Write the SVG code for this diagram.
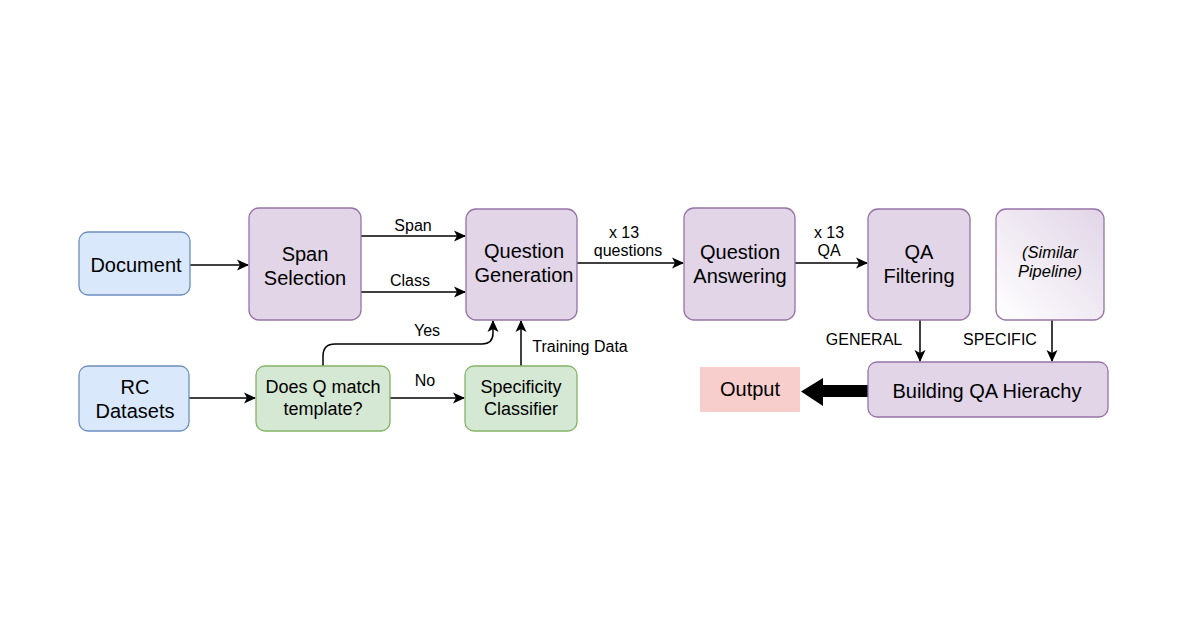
<svg xmlns="http://www.w3.org/2000/svg" width="1200" height="628" viewBox="0 0 1200 628">
<style>
text{font-family:"Liberation Sans",Arial,sans-serif;fill:#000;text-anchor:middle}
.n{font-size:20px}
.l{font-size:16px}
.m{font-size:18px}
.blue{fill:#dae8fc;stroke:#6c8ebf;stroke-width:1.3}
.purple{fill:#e1d5e7;stroke:#9673a6;stroke-width:1.3}
.green{fill:#d5e8d4;stroke:#82b366;stroke-width:1.3}
.c{fill:none;stroke:#000;stroke-width:1.5}
</style>
<defs>
<marker id="ah" viewBox="0 0 12 12" refX="11" refY="6" markerWidth="12" markerHeight="12" markerUnits="userSpaceOnUse" orient="auto">
<path d="M0,0.5 L12,6 L0,11.5 L3,6 Z" fill="#000"/>
</marker>
<linearGradient id="g" x1="0" y1="1" x2="1" y2="0">
<stop offset="0" stop-color="#ffffff"/>
<stop offset="1" stop-color="#e1d5e7"/>
</linearGradient>
</defs>
<rect width="1200" height="628" fill="#fff"/>
<g id="connectors">
<path class="c" d="M190,265 H248" marker-end="url(#ah)"/>
<path class="c" d="M361,236 H465" marker-end="url(#ah)"/>
<path class="c" d="M361,292 H465" marker-end="url(#ah)"/>
<path class="c" d="M577,263 H683" marker-end="url(#ah)"/>
<path class="c" d="M795,263 H867" marker-end="url(#ah)"/>
<path class="c" d="M189,398 H255" marker-end="url(#ah)"/>
<path class="c" d="M390,398 H464" marker-end="url(#ah)"/>
<path class="c" d="M323,366 V356 Q323,344 335,344 H482 Q493,344 493,333 V321" marker-end="url(#ah)"/>
<path class="c" d="M521,366 V321" marker-end="url(#ah)"/>
<path class="c" d="M920,320 V361" marker-end="url(#ah)"/>
<path class="c" d="M1052,320 V361" marker-end="url(#ah)"/>
<path d="M868,385 H823 V378 L801,391.5 L823,406 V397 H868 Z" fill="#000"/>
<text class="l" x="413" y="231">Span</text>
<text class="l" x="410" y="286">Class</text>
<text class="l" x="624" y="238">x 13</text>
<text class="l" x="628" y="256">questions</text>
<text class="l" x="829" y="238">x 13</text>
<text class="l" x="829" y="256">QA</text>
<text class="l" x="427" y="336">Yes</text>
<text class="l" x="425" y="386">No</text>
<text class="l" x="580" y="352">Training Data</text>
<text class="l" x="864" y="345">GENERAL</text>
<text class="l" x="1000" y="345">SPECIFIC</text>
</g>
<g id="document"><rect class="blue" x="79" y="232" width="111" height="63" rx="9"/><text class="n" x="136" y="272">Document</text></g>
<g id="span-selection"><rect class="purple" x="249" y="208" width="112" height="112" rx="10"/><text class="n" x="305" y="261">Span</text><text class="n" x="305" y="285">Selection</text></g>
<g id="question-generation"><rect class="purple" x="466" y="209" width="111" height="111" rx="10"/><text class="n" x="524" y="258">Question</text><text class="n" x="524" y="282">Generation</text></g>
<g id="question-answering"><rect class="purple" x="684" y="208" width="111" height="112" rx="10"/><text class="n" x="740" y="259">Question</text><text class="n" x="740" y="283">Answering</text></g>
<g id="qa-filtering"><rect class="purple" x="868" y="209" width="102" height="111" rx="10"/><text class="n" x="919" y="259">QA</text><text class="n" x="919" y="283">Filtering</text></g>
<g id="similar-pipeline"><rect x="996" y="209" width="108" height="111" rx="10" fill="url(#g)" stroke="#9673a6" stroke-width="1.3"/><text x="1050" y="258" font-size="16.5" font-style="italic">(Similar</text><text x="1050" y="277" font-size="16.5" font-style="italic">Pipeline)</text></g>
<g id="rc-datasets"><rect class="blue" x="79" y="366" width="110" height="65" rx="9"/><text class="n" x="135" y="394">RC</text><text class="n" x="135" y="418">Datasets</text></g>
<g id="does-q-match"><rect class="green" x="256" y="366" width="134" height="65" rx="9"/><text class="m" x="323" y="393">Does Q match</text><text class="m" x="323" y="415">template?</text></g>
<g id="specificity-classifier"><rect class="green" x="465" y="366" width="112" height="65" rx="9"/><text class="m" x="521" y="393">Specificity</text><text class="m" x="521" y="415">Classifier</text></g>
<g id="building-qa-hierachy"><rect class="purple" x="868" y="362" width="240" height="55" rx="9"/><text class="n" x="987" y="398">Building QA Hierachy</text></g>
<g id="output"><rect x="700" y="367" width="100" height="45" fill="#f8cecc"/><text class="n" x="750" y="396">Output</text></g>
</svg>
